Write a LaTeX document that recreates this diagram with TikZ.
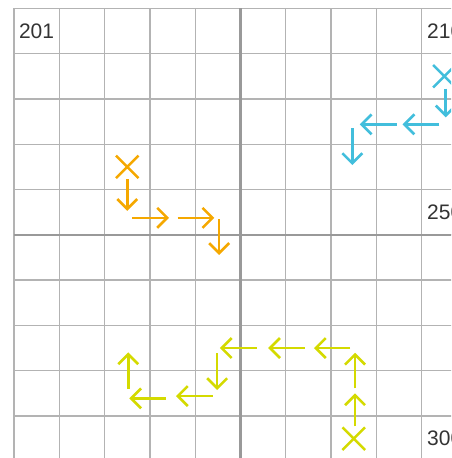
\documentclass[tikz,border=0pt]{standalone}
\usepackage{fontspec}
\setmainfont{Liberation Sans}
\usetikzlibrary{arrows.meta,shapes.misc}

\begin{document}
\begin{tikzpicture}[x=1pt,y=-1pt,
    gridline/.style={draw=gridgray,line width=1.3pt},
    midline/.style={draw=midgray,line width=2.2pt},
    celllabel/.style={anchor=west,inner sep=0pt,text=labelgray,font=\fontsize{21}{21}\selectfont},
    hop/.style={line width=2.6pt,shorten <=5pt,shorten >=3.5pt,-{Straight Barb[length=10pt,width=20pt]}},
    startmark/.style={cross out,draw,line width=2.6pt,minimum size=20pt,inner sep=0pt}]
    % Definición de colores
    \definecolor{gridgray}{HTML}{B3B3B3}
    \definecolor{midgray}{HTML}{999999}
    \definecolor{labelgray}{HTML}{333333}
    \definecolor{bluepath}{HTML}{42BEDC}
    \definecolor{orangepath}{HTML}{F5A800}
    \definecolor{yellowpath}{HTML}{D4DA00}

    % Marco
    \useasboundingbox (0,0) rectangle (451,458);
    \clip (0,0) rectangle (451,458);

    % Cuadricula
    \foreach \i in {0,...,10}
    {
        \draw[gridline] ({14+45.3*\i},8.3) -- ({14+45.3*\i},461.3);
        \draw[gridline] (14,{8.3+45.3*\i}) -- (467,{8.3+45.3*\i});
    }
    \draw[midline] (240.5,8.3) -- (240.5,461.3);
    \draw[midline] (14,234.8) -- (467,234.8);

    % Centros de las casillas
    \foreach \c in {0,...,9}
        \foreach \r in {0,...,9}
            \coordinate (c\c\r) at ({14+45.3*(\c+0.5)},{8.3+45.3*(\r+0.5)});

    % Numeros
    \node[celllabel] (n201) at ([xshift=-17.8pt]c00) {201};
    \node[celllabel] (n210) at ([xshift=-17.4pt]c90) {210};
    \node[celllabel] (n250) at ([xshift=-17.4pt]c94) {250};
    \node[celllabel] (n300) at ([xshift=-17.4pt]c99) {300};

    % Camino naranja
    \node[startmark,orangepath] (startO) at (c23) {};
    \draw[hop,orangepath,shorten <=1pt,shorten >=1.3pt] (startO) -- (c24);
    \draw[hop,orangepath] ([yshift=-5.7pt]c24) -- ([yshift=-5.7pt]c34);
    \draw[hop,orangepath] ([yshift=-5.7pt]c34) -- ([yshift=-5.7pt]c44);
    \draw[hop,orangepath,shorten <=7pt,shorten >=2.5pt] ([xshift=1.3pt]c44) -- ([xshift=1.3pt]c45);

    % Camino azul
    \node[startmark,bluepath] (startB) at (c91) {};
    \draw[hop,bluepath,shorten <=1pt,shorten >=4.2pt] ([xshift=1.4pt]startB.south) -- ([xshift=1.4pt]c92);
    \draw[hop,bluepath] ([yshift=-2.8pt]c92) -- ([yshift=-2.8pt]c82);
    \draw[hop,bluepath,shorten <=2.5pt,shorten >=6pt] ([yshift=-2.8pt]c82) -- ([yshift=-2.8pt]c72);
    \draw[hop,bluepath,shorten <=6.8pt,shorten >=1.8pt] ([xshift=-1.4pt]c72) -- ([xshift=-1.4pt]c73);

    % Camino amarillo
    \node[startmark,yellowpath] (startY) at (c79) {};
    \draw[hop,yellowpath,shorten <=1pt,shorten >=0pt] ([xshift=1.3pt]startY.north) -- ([xshift=1.3pt]c78);
    \draw[hop,yellowpath,shorten >=4.7pt] ([xshift=1.3pt]c78) -- ([xshift=1.3pt]c77);
    \draw[hop,yellowpath,shorten <=3.7pt,shorten >=5.5pt] (c77) -- (c67);
    \draw[hop,yellowpath,shorten <=3.5pt,shorten >=5pt] (c67) -- (c57);
    \draw[hop,yellowpath,shorten <=6.5pt,shorten >=2pt] (c57) -- (c47);
    \draw[hop,yellowpath,shorten <=5.3pt,shorten >=3.3pt] ([xshift=-0.7pt]c47) -- ([xshift=-0.7pt]c48);
    \draw[hop,yellowpath,shorten <=5.3pt,shorten >=3.4pt] ([yshift=-2.7pt]c48) -- ([yshift=-2.7pt]c38);
    \draw[hop,yellowpath,shorten <=6.9pt,shorten >=2pt] ([yshift=-5pt]c38) -- ([yshift=-5pt]c28);
    \draw[hop,yellowpath,shorten <=4.3pt,shorten >=4.3pt] ([xshift=1pt]c28) -- ([xshift=1pt]c27);

\end{tikzpicture}
\end{document}
